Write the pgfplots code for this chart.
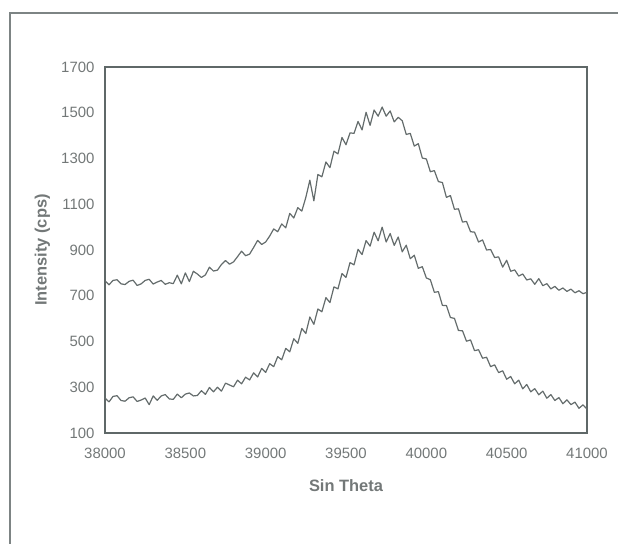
\documentclass[border=0pt]{standalone}
\usepackage{fontspec}
\setmainfont{Liberation Sans}
\usepackage{pgfplots}
\pgfplotsset{compat=1.18}
\definecolor{linegray}{RGB}{100,108,108}
\definecolor{boxgray}{RGB}{95,104,104}
\definecolor{txtgray}{RGB}{115,120,120}
\definecolor{framegray}{RGB}{125,132,132}
\begin{document}
\begin{tikzpicture}
\begin{axis}[
  name=main,
  scale only axis,
  width=482bp, height=366bp,
  xmin=38000, xmax=41000,
  ymin=100, ymax=1700,
  xtick={38000,38500,...,41000},
  ytick={100,300,...,1700},
  scaled ticks=false,
  xticklabel={\pgfmathprintnumber[fixed,precision=0,set thousands separator={}]{\tick}},
  major tick length=0pt,
  axis line style={boxgray, line width=1.6bp},
  /pgf/number format/assume math mode=true,
  /pgf/number format/set thousands separator={},
  ticklabel style={font=\fontsize{15}{17}\selectfont, text=txtgray},
  yticklabel style={xshift=-7bp},
  xticklabel style={yshift=-12bp},
  xlabel={Sin Theta},
  ylabel={Intensity (cps)},
  label style={font=\fontsize{16.5}{19}\selectfont\bfseries, text=txtgray},
  xlabel style={at={(axis description cs:0.5,-0.145)}, anchor=center},
  ylabel style={at={(axis description cs:-0.13,0.5)}, anchor=center},
  clip=false,
]
\addplot[linegray, line width=1.2bp, line join=round] coordinates {
(38000,765)(38025,748)(38050,767)(38075,770)(38100,752)(38125,749)(38150,763)(38175,768)
(38200,745)(38225,752)(38250,767)(38275,772)(38300,751)(38325,760)(38350,767)(38375,750)
(38400,757)(38425,753)(38450,790)(38475,752)(38500,800)(38525,762)(38550,807)(38575,795)
(38600,780)(38625,791)(38650,825)(38675,808)(38700,812)(38725,837)(38750,854)(38775,838)
(38800,848)(38825,871)(38850,895)(38875,875)(38900,882)(38925,911)(38950,942)(38975,924)
(39000,935)(39025,961)(39050,992)(39075,980)(39100,1014)(39125,997)(39150,1060)(39175,1040)
(39200,1085)(39225,1070)(39250,1130)(39275,1205)(39300,1115)(39325,1230)(39350,1220)(39375,1285)
(39400,1260)(39425,1332)(39450,1320)(39475,1392)(39500,1360)(39525,1412)(39550,1410)(39575,1462)
(39600,1425)(39625,1502)(39650,1445)(39675,1512)(39700,1485)(39725,1525)(39750,1485)(39775,1508)
(39800,1460)(39825,1480)(39850,1465)(39875,1405)(39900,1410)(39925,1354)(39950,1365)(39975,1302)
(40000,1298)(40025,1242)(40050,1247)(40075,1199)(40100,1195)(40125,1130)(40150,1138)(40175,1078)
(40200,1080)(40225,1022)(40250,1025)(40275,980)(40300,978)(40325,935)(40350,944)(40375,900)
(40400,902)(40425,867)(40450,870)(40475,825)(40500,855)(40525,807)(40550,813)(40575,786)
(40600,795)(40625,769)(40650,774)(40675,750)(40700,775)(40725,744)(40750,753)(40775,730)
(40800,741)(40825,724)(40850,734)(40875,719)(40900,729)(40925,713)(40950,722)(40975,709)
(41000,715)
};
\addplot[linegray, line width=1.2bp, line join=round] coordinates {
(38000,253)(38025,236)(38050,260)(38075,263)(38100,242)(38125,239)(38150,254)(38175,258)
(38200,238)(38225,244)(38250,253)(38275,224)(38300,262)(38325,243)(38350,262)(38375,268)
(38400,249)(38425,247)(38450,270)(38475,254)(38500,270)(38525,275)(38550,262)(38575,264)
(38600,285)(38625,269)(38650,299)(38675,280)(38700,300)(38725,283)(38750,318)(38775,310)
(38800,302)(38825,331)(38850,315)(38875,344)(38900,332)(38925,363)(38950,345)(38975,382)
(39000,365)(39025,403)(39050,390)(39075,434)(39100,420)(39125,470)(39150,455)(39175,512)
(39200,492)(39225,557)(39250,535)(39275,607)(39300,575)(39325,642)(39350,630)(39375,692)
(39400,670)(39425,739)(39450,730)(39475,797)(39500,780)(39525,845)(39550,835)(39575,903)
(39600,880)(39625,941)(39650,917)(39675,978)(39700,940)(39725,1000)(39750,935)(39775,972)
(39800,920)(39825,957)(39850,892)(39875,921)(39900,862)(39925,877)(39950,820)(39975,827)
(40000,778)(40025,770)(40050,715)(40075,718)(40100,658)(40125,657)(40150,605)(40175,601)
(40200,548)(40225,547)(40250,501)(40275,507)(40300,460)(40325,464)(40350,427)(40375,431)
(40400,390)(40425,398)(40450,364)(40475,372)(40500,335)(40525,347)(40550,315)(40575,331)
(40600,293)(40625,312)(40650,280)(40675,294)(40700,267)(40725,283)(40750,252)(40775,268)
(40800,242)(40825,255)(40850,228)(40875,245)(40900,224)(40925,235)(40950,208)(40975,223)
(41000,205)
};
\end{axis}
\draw[framegray, line width=2bp] ([xshift=-95bp, yshift=-115bp]main.south west) -- ([xshift=-95bp, yshift=54bp]main.north west) -- ([xshift=35bp, yshift=54bp]main.north east);
\pgfresetboundingbox
\useasboundingbox ([xshift=-105bp, yshift=-111bp]main.south west) rectangle ([xshift=31bp, yshift=67bp]main.north east);
\end{tikzpicture}
\end{document}
